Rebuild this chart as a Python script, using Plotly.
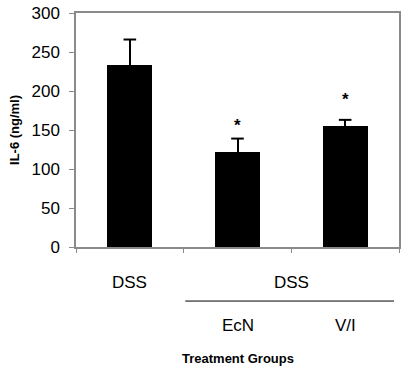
import plotly.graph_objects as go

groups = ["DSS", "EcN", "V/I"]
il6 = [233, 122, 155]
sem = [33, 17, 8]
sig = ["", "*", "*"]
y_ticks = [0, 50, 100, 150, 200, 250, 300]

FONT = "Arial, Liberation Sans, sans-serif"
GREY = "#8a8a8a"
xpos = list(range(len(groups)))
tops = [v + e for v, e in zip(il6, sem)]

fig = go.Figure()
fig.add_trace(go.Bar(
    x=xpos, y=il6, width=0.42,
    marker=dict(color="black", line=dict(width=0)),
    error_y=dict(type="data", array=sem, arrayminus=[0] * len(sem), symmetric=False,
                 color="black", thickness=2, width=0),
    showlegend=False, hoverinfo="skip",
))
# top caps of the error bars (one-sided, upper only)
fig.add_trace(go.Scatter(
    x=xpos, y=tops, mode="markers",
    marker=dict(symbol="line-ew", size=9, line=dict(color="black", width=2)),
    showlegend=False, hoverinfo="skip",
))

star_shift = [0, 13, 20]
for i, s in enumerate(sig):
    if s:
        fig.add_annotation(x=xpos[i], y=tops[i], text="<b>" + s + "</b>", showarrow=False,
                           yshift=star_shift[i], yanchor="middle",
                           font=dict(family=FONT, size=17, color="black"))

# category labels
lab_y1 = -0.150
lab_y2 = -0.335
fig.add_annotation(x=0, y=lab_y1, yref="paper", text="DSS", showarrow=False,
                   font=dict(family=FONT, size=17, color="black"), yanchor="middle")
fig.add_annotation(x=1.5, y=lab_y1, yref="paper", text="DSS", showarrow=False,
                   font=dict(family=FONT, size=17, color="black"), yanchor="middle")
fig.add_annotation(x=1, y=lab_y2, yref="paper", text="EcN", showarrow=False,
                   font=dict(family=FONT, size=17, color="black"), yanchor="middle")
fig.add_annotation(x=2, y=lab_y2, yref="paper", text="V/I", showarrow=False,
                   font=dict(family=FONT, size=17, color="black"), yanchor="middle")
fig.add_shape(type="line", xref="x", yref="paper", x0=0.515, x1=2.454,
              y0=-0.231, y1=-0.231, line=dict(color="black", width=1))

fig.add_annotation(x=1.0, y=-0.475, yref="paper", text="<b>Treatment Groups</b>",
                   showarrow=False, font=dict(family=FONT, size=13, color="black"),
                   yanchor="middle")
fig.add_annotation(x=-0.192, xref="paper", y=0.5, yref="paper", text="<b>IL-6 (ng/ml)</b>",
                   textangle=-90, showarrow=False, xanchor="center", yanchor="middle",
                   font=dict(family=FONT, size=13, color="black"))

fig.update_layout(
    width=402, height=366,
    margin=dict(l=76, r=1, t=13, b=119),
    plot_bgcolor="white", paper_bgcolor="white",
    bargap=0,
    xaxis=dict(range=[-0.5, 2.5], tickvals=[-0.5, 0.5, 1.5, 2.5], ticktext=["", "", "", ""],
               ticks="outside", ticklen=4, tickcolor=GREY, showline=True, linecolor=GREY,
               linewidth=1.5, mirror=True, showgrid=False, zeroline=False, fixedrange=True),
    yaxis=dict(range=[0, 300], tickvals=y_ticks, ticks="outside", ticklen=5, tickcolor=GREY,
               showline=True, linecolor=GREY, linewidth=1.5, mirror=True, showgrid=False,
               zeroline=False, ticklabelstandoff=6,
               tickfont=dict(family=FONT, size=17, color="black")),
)

fig.write_html("out.html", config={"displayModeBar": False},
               post_script="document.body.style.margin='0px';")
